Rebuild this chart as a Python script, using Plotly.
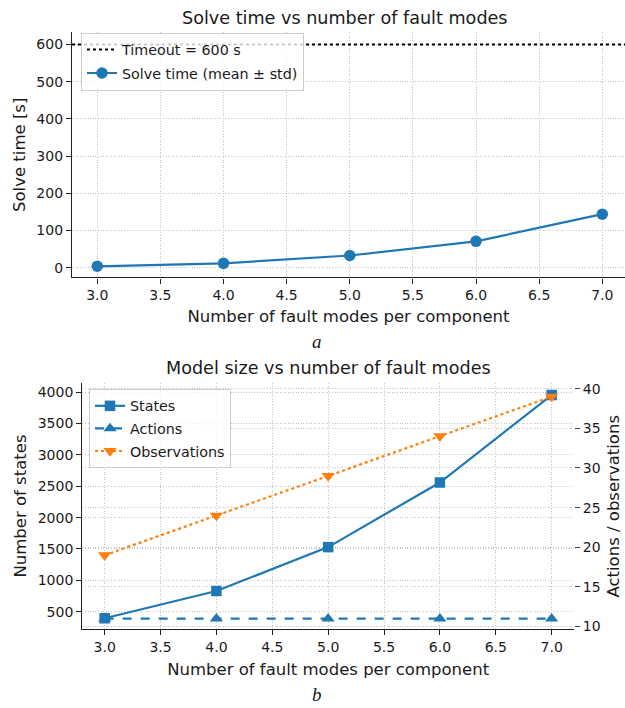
import plotly.graph_objects as go

# ---------------- data ----------------
fault_modes = [3, 4, 5, 6, 7]
solve_mean = [4, 12, 33, 71, 144]
solve_std = [0.5, 1.2, 2.5, 3.5, 5.0]
timeout = 600

states = [395, 830, 1530, 2560, 3955]
actions = [11, 11, 11, 11, 11]
observations = [19, 24, 29, 34, 39]

x_ticks = [3.0, 3.5, 4.0, 4.5, 5.0, 5.5, 6.0, 6.5, 7.0]
x_tick_labels = ["3.0", "3.5", "4.0", "4.5", "5.0", "5.5", "6.0", "6.5", "7.0"]

BLUE = "#1f77b4"
ORANGE = "#ff7f0e"
TXT = "#1a1a1a"
GRID = "#c4c4c4"
FONT = "DejaVu Sans"

W, H = 625, 708

fig = go.Figure()

# ---------- top panel ----------
fig.add_trace(go.Scatter(
    x=[2.8, 7.2], y=[timeout, timeout], mode="lines",
    line=dict(color="black", width=2, dash="dot"),
    name="Timeout = 600 s", xaxis="x", yaxis="y", legend="legend", legendgroup="t1",
))
fig.add_trace(go.Scatter(
    x=fault_modes, y=solve_mean, mode="lines+markers",
    line=dict(color=BLUE, width=2.2),
    marker=dict(color=BLUE, size=11.5, symbol="circle"),
    error_y=dict(type="data", array=solve_std, color=BLUE, thickness=1.5, width=0),
    name="Solve time (mean ± std)", xaxis="x", yaxis="y", legend="legend", legendgroup="t2",
))

# ---------- bottom panel ----------
fig.add_trace(go.Scatter(
    x=fault_modes, y=states, mode="lines+markers",
    line=dict(color=BLUE, width=2.2),
    marker=dict(color=BLUE, size=10.5, symbol="square"),
    name="States", xaxis="x2", yaxis="y3", legend="legend2", legendgroup="b1",
))
fig.add_trace(go.Scatter(
    x=fault_modes, y=actions, mode="lines+markers",
    line=dict(color=BLUE, width=2.2, dash="dash"),
    marker=dict(color=BLUE, size=11.5, symbol="triangle-up"),
    name="Actions", xaxis="x2", yaxis="y4", legend="legend2", legendgroup="b2",
))
fig.add_trace(go.Scatter(
    x=fault_modes, y=observations, mode="lines+markers",
    line=dict(color=ORANGE, width=2.2, dash="dot"),
    marker=dict(color=ORANGE, size=11.5, symbol="triangle-down"),
    name="Observations", xaxis="x2", yaxis="y4", legend="legend2", legendgroup="b3",
))

def ydom(top_px, bot_px):
    return [(H - bot_px) / H, (H - top_px) / H]

tickfont = dict(family=FONT, size=14, color=TXT)
titlefont = dict(family=FONT, size=16.5, color=TXT)
legfont = dict(family=FONT, size=14.3, color=TXT)

common_x = dict(
    tickmode="array", tickvals=x_ticks, ticktext=x_tick_labels,
    showgrid=True, gridcolor=GRID, griddash="1px,1.6px", gridwidth=0.8,
    showline=True, linecolor="#222", linewidth=1.3,
    ticks="outside", ticklen=5, tickcolor="#222", tickwidth=1.2,
    tickfont=tickfont, zeroline=False,
)
common_y = dict(
    showgrid=True, gridcolor=GRID, griddash="1px,1.6px", gridwidth=0.8,
    showline=True, linecolor="#222", linewidth=1.3,
    ticks="outside", ticklen=5, tickcolor="#222", tickwidth=1.2,
    tickfont=tickfont, zeroline=False,
)

fig.update_layout(
    width=W, height=H,
    margin=dict(l=0, r=0, t=0, b=0),
    paper_bgcolor="white", plot_bgcolor="white",
    font=dict(family=FONT, color=TXT),
    xaxis=dict(common_x, domain=[72 / W, 1.0], range=[2.8, 7.18], anchor="y",
               title=dict(text="Number of fault modes per component", font=titlefont, standoff=8)),
    yaxis=dict(common_y, domain=ydom(29.5, 278), range=[-26, 633], anchor="x",
               tickvals=[0, 100, 200, 300, 400, 500, 600],
               title=dict(text="Solve time [s]", font=titlefont, standoff=6)),
    xaxis2=dict(common_x, domain=[82.3 / W, 574 / W], range=[2.8, 7.2], anchor="y3",
                title=dict(text="Number of fault modes per component", font=titlefont, standoff=9)),
    yaxis3=dict(common_y, domain=ydom(385, 634), range=[225, 4145], anchor="x2",
                tickvals=[500, 1000, 1500, 2000, 2500, 3000, 3500, 4000],
                title=dict(text="Number of states", font=titlefont, standoff=6)),
    yaxis4=dict(common_y, overlaying="y3", side="right", anchor="x2",
                range=[9.7, 40.7], tickvals=[10, 15, 20, 25, 30, 35, 40],
                showline=False, tickcolor="#444"),
    legend=dict(x=81 / W, y=(H - 30) / H, xanchor="left", yanchor="top",
                traceorder="grouped", tracegroupgap=2,
                bgcolor="rgba(255,255,255,0.8)", bordercolor="#cccccc", borderwidth=1,
                font=legfont),
    legend2=dict(x=89 / W, y=(H - 391) / H, xanchor="left", yanchor="top",
                 traceorder="grouped", tracegroupgap=1,
                 bgcolor="rgba(255,255,255,0.8)", bordercolor="#cccccc", borderwidth=1,
                 font=legfont),
    showlegend=True,
    annotations=[
        dict(text="Solve time vs number of fault modes", x=345 / W, y=(H - 15) / H,
             xref="paper", yref="paper", showarrow=False, xanchor="center", yanchor="middle",
             font=dict(family=FONT, size=17.6, color=TXT)),
        dict(text="Model size vs number of fault modes", x=328 / W, y=(H - 370) / H,
             xref="paper", yref="paper", showarrow=False, xanchor="center", yanchor="middle",
             font=dict(family=FONT, size=17.6, color=TXT)),
        dict(text="Actions / observations", x=614 / W, y=(H - 510) / H, textangle=-90,
             xref="paper", yref="paper", showarrow=False, xanchor="center", yanchor="middle",
             font=titlefont),
        dict(text="<i>a</i>", x=317 / W, y=(H - 343) / H,
             xref="paper", yref="paper", showarrow=False, xanchor="center", yanchor="middle",
             font=dict(family="Liberation Serif", size=19, color=TXT)),
        dict(text="<i>b</i>", x=317 / W, y=(H - 700) / H,
             xref="paper", yref="paper", showarrow=False, xanchor="center", yanchor="middle",
             font=dict(family="Liberation Serif", size=19, color=TXT)),
    ],
)

fig.write_html("out.html")
